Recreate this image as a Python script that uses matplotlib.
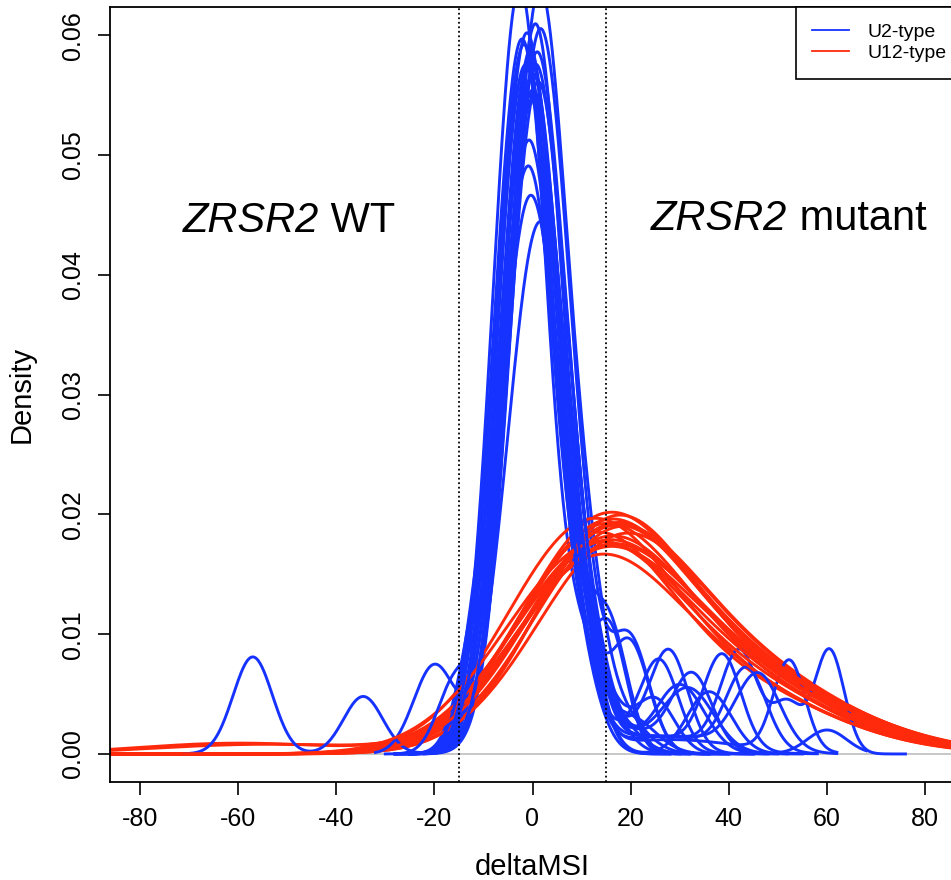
import numpy as np
import matplotlib
matplotlib.use('Agg')
import matplotlib.pyplot as plt
from matplotlib.lines import Line2D

# ---------------- data ----------------
# Each density curve is described by its bumps (centre, spread, peak height)
# and by the x-range over which the density was evaluated.
u2_centres = [
    [-2.6, 10, 16], [1.4, 11, 18], [-1.2, 9, 15.7], [1.5, 10, 19.8],
    [-2.2, 9, 25.9, 18], [-0.5, 10, 27.9, 18], [0.5, 10, 32.6, 20],
    [-1.5, -11, 9, 38.7, 22], [1.0, 10, 42.2, 52.0, 60.5, 25],
    [0.0, -12, 10, 43.6, 25], [-0.8, 9, 52.3, 28], [0.0, -12, 10, 36.0],
    [-0.8, 12, 25], [-0.8, -11, 15.7], [-0.4, 19.8, 10], [1.4, 30, 12],
    [-57, -34.5, -1.0, -12, 10], [-20, 0.0, 10], [-16, -0.5, 10, 20],
    [0.5, -11, 12], [-1.8, 9, 46, 28], [0.8, 10, 32, 60, 20],
]
u2_spreads = [
    [5.4, 4, 5], [5.6, 4, 5], [5.7, 4, 3.8], [5.8, 4, 4.0],
    [5.6, 4, 3.8, 8], [5.8, 4, 3.8, 8], [6.0, 4, 4.0, 10],
    [5.6, 3.5, 4, 3.8, 12], [5.8, 4, 3.8, 3.0, 3.0, 12],
    [5.8, 3.5, 4, 4.0, 12], [5.8, 4, 3.2, 14], [6.0, 3.5, 4, 4.5],
    [5.8, 5, 4], [6.0, 3.5, 3.5], [6.2, 4, 4], [6.4, 5, 5],
    [4.0, 4.0, 5.4, 3.5, 4], [4.2, 5.6, 4], [3.5, 5.6, 4, 5],
    [5.5, 3.5, 5], [5.7, 4, 4.5, 12], [5.8, 4, 5, 4, 10],
]
u2_heights = [
    [0.0640, 0.006, 0.003], [0.0635, 0.008, 0.003], [0.0600, 0.005, 0.0100],
    [0.0600, 0.005, 0.0095], [0.0595, 0.006, 0.0070, 0.0015],
    [0.0575, 0.006, 0.0078, 0.0020], [0.0570, 0.005, 0.0060, 0.0018],
    [0.0570, 0.004, 0.006, 0.0078, 0.0015],
    [0.0555, 0.005, 0.0082, 0.0040, 0.0087, 0.0015],
    [0.0550, 0.005, 0.006, 0.0068, 0.0015], [0.0545, 0.006, 0.0076, 0.0012],
    [0.0545, 0.006, 0.005, 0.0052], [0.0510, 0.0065, 0.0045],
    [0.0490, 0.006, 0.0100], [0.0465, 0.0092, 0.004], [0.0440, 0.0058, 0.004],
    [0.0081, 0.0048, 0.0575, 0.005, 0.005], [0.0074, 0.0565, 0.006],
    [0.0055, 0.0585, 0.005, 0.003], [0.0605, 0.004, 0.006],
    [0.0590, 0.006, 0.0063, 0.0015], [0.0580, 0.005, 0.0048, 0.0020, 0.0015],
]
u2_from = [-25, -22, -25, -22, -25, -25, -25, -28, -25, -28, -25,
           -28, -25, -28, -25, -22, -71, -32, -30, -28, -25, -25]
u2_to = [32, 36, 32, 36, 45, 48, 52, 58, 76, 58, 62,
         55, 45, 30, 40, 50, 28, 28, 34, 40, 62, 68]

u12_centres = [
    [13, 34], [12, 33], [14, 35], [11, 32], [15, 36], [13, 35],
    [10, 31], [14, 34], [12, 34], [16, 37], [11, 33], [13, 33],
    [15, 35], [12, 35], [13, 34, -55], [11, 33, -60], [14, 36], [10, 32],
]
u12_spreads = [
    [16, 24], [16, 23], [16, 25], [15, 24], [16, 24], [17, 25],
    [16, 24], [15, 22], [17, 24], [16, 24], [16, 23], [16, 25],
    [15, 23], [16, 24], [16, 24, 22], [16, 24, 20], [16, 24], [17, 24],
]
u12_heights = [
    [0.0147, 0.0076], [0.0142, 0.0072], [0.0135, 0.0078], [0.0138, 0.0066],
    [0.0132, 0.0080], [0.0125, 0.0070], [0.0148, 0.0068], [0.0135, 0.0082],
    [0.0128, 0.0072], [0.0130, 0.0075], [0.0122, 0.0066], [0.0135, 0.0080],
    [0.0146, 0.0074], [0.0120, 0.0078], [0.0130, 0.0072, 0.0008],
    [0.0128, 0.0070, 0.0009], [0.0138, 0.0076], [0.0125, 0.0074],
]
u12_from = [-95] * 18
u12_to = [100] * 18

vlines = [-15, 15]
xticks = [-80, -60, -40, -20, 0, 20, 40, 60, 80]
yticks = [0.00, 0.01, 0.02, 0.03, 0.04, 0.05, 0.06]
ytick_labels = ['0.00', '0.01', '0.02', '0.03', '0.04', '0.05', '0.06']
legend_labels = ['U2-type', 'U12-type']

BLUE = '#1632ff'
RED = '#ff2a0c'


def curve(centres, spreads, heights, lo, hi):
    x = np.linspace(lo, hi, 512)
    y = np.zeros_like(x)
    for m, s, h in zip(centres, spreads, heights):
        y += h * np.exp(-0.5 * ((x - m) / s) ** 2)
    return x, y


plt.rcParams['font.family'] = ['Liberation Sans', 'DejaVu Sans']

fig = plt.figure(figsize=(9.51, 8.8), dpi=100)
ax = fig.add_axes([110 / 951, 98 / 880, 845 / 951, 775 / 880])

ax.axhline(0, color='#bebebe', lw=1.2, zorder=0.5)

n = max(len(u2_centres), len(u12_centres))
z = 2
for i in range(n):
    if i < len(u2_centres):
        x, y = curve(u2_centres[i], u2_spreads[i], u2_heights[i], u2_from[i], u2_to[i])
        ax.plot(x, y, color=BLUE, lw=2.1, zorder=z)
        z += 0.01
    if i < len(u12_centres):
        x, y = curve(u12_centres[i], u12_spreads[i], u12_heights[i], u12_from[i], u12_to[i])
        ax.plot(x, y, color=RED, lw=2.1, zorder=z)
        z += 0.01

for v in vlines:
    ax.axvline(v, color='black', ls=(0, (1, 1.5)), lw=1.3, zorder=5)

ax.set_xlim(-86.1, 86.1)
ax.set_ylim(-0.00234, 0.06235)
ax.set_xticks(xticks)
ax.set_xticklabels([str(t) for t in xticks])
ax.set_yticks(yticks)
ax.set_yticklabels(ytick_labels, rotation=90, va='center')
ax.tick_params(direction='out', length=9, width=1.2, labelsize=18, pad=9)
for sp in ax.spines.values():
    sp.set_linewidth(1.3)

ax.set_xlabel('deltaMSI', fontsize=21, labelpad=16)
ax.set_ylabel('Density', fontsize=21, labelpad=18)

# panel annotations: italic gene name followed by upright text
for x0, y0, rest in [(-71.3, 0.04357, ' WT'), (24.2, 0.04374, ' mutant')]:
    t1 = ax.text(x0, y0, 'ZRSR2', fontsize=30, fontstyle='italic',
                 ha='left', va='baseline', zorder=6)
    ax.annotate(rest, xy=(1, 0), xycoords=t1, fontsize=30,
                ha='left', va='bottom', zorder=6)

handles = [Line2D([], [], color=BLUE, lw=1.3), Line2D([], [], color=RED, lw=1.3)]
leg = ax.legend(handles, legend_labels, loc='upper right',
                bbox_to_anchor=(1 + 8 / 845, 1), borderaxespad=0,
                fontsize=14, frameon=True, fancybox=False, edgecolor='black',
                framealpha=1, handlelength=1.9, handletextpad=0.93,
                borderpad=0.85, labelspacing=0.17)
leg.get_frame().set_linewidth(1.2)
leg.set_zorder(10)

fig.savefig('out.png', dpi=100)
